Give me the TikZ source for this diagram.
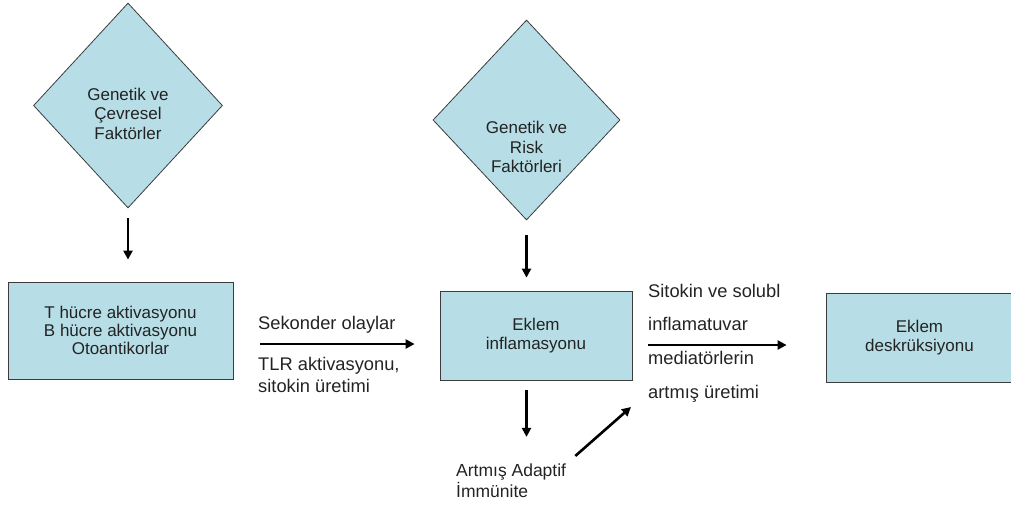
\documentclass[tikz,border=0pt]{standalone}
\usepackage{fontspec}
\setmainfont{Liberation Sans}
\usetikzlibrary{shapes.geometric,arrows.meta}
\definecolor{boxfill}{RGB}{183,222,230}
\definecolor{boxline}{RGB}{60,60,60}
\definecolor{ink}{RGB}{35,35,35}

\begin{document}
\begin{tikzpicture}[x=1pt,y=-1pt]
    \tikzset{txt/.style={font=\fontsize{17}{19.5}\selectfont,text=ink,align=center,inner sep=0pt}}
    \tikzset{lbl/.style={font=\fontsize{18.3}{19.5}\selectfont,text=ink,align=left,inner sep=0pt,anchor=west}}
    \tikzset{dia/.style={draw=boxline,line width=0.8pt,fill=boxfill,diamond,inner sep=0pt}}
    \tikzset{box/.style={txt,draw=boxline,line width=0.8pt,fill=boxfill}}
    \tikzset{edge/.style={line width=2.6pt,-{Triangle[length=9pt,width=9pt]}}}

    \useasboundingbox (0,0) rectangle (1011,504);

    \node[dia,minimum width=189pt,minimum height=205pt,
          label={[txt,yshift=-8pt]center:{Genetik ve\\Çevresel\\Faktörler}}] (d1) at (128,105.5) {};
    \node[dia,minimum width=187pt,minimum height=200pt,
          label={[txt,yshift=-27pt]center:{Genetik ve\\Risk\\Faktörleri}}] (d2) at (526.5,120) {};

    \node[box,minimum width=225pt,minimum height=97pt,font=\fontsize{17}{18}\selectfont] (b1) at (120.5,330.5)
        {T hücre aktivasyonu\\B hücre aktivasyonu\\Otoantikorlar};
    \node[box,minimum width=192pt,minimum height=89pt] (b2) at (536,335.5) {Eklem\\inflamasyonu};
    \node[box,minimum width=187pt,minimum height=89pt] (b3) at (919.5,337.5) {Eklem\\deskrüksiyonu};

    \node[lbl] (sek) at (258,325) {Sekonder olaylar};
    \node[lbl,font=\fontsize{18.3}{22}\selectfont] (tlr) at (258,375) {TLR aktivasyonu,\\sitokin üretimi};
    \node[lbl,font=\fontsize{18.3}{33.7}\selectfont] (med) at (648,343)
        {Sitokin ve solubl\\inflamatuvar\\mediatörlerin\\artmış üretimi};
    \node[lbl,font=\fontsize{17.5}{21}\selectfont] (adapt) at (456,481) {Artmış Adaptif\\İmmünite};
    \coordinate (up) at (631,407);

    \draw[edge,shorten <=10pt,shorten >=22pt] (d1.south) -- (d1.south |- b1.north);
    \draw[edge,shorten <=15pt,shorten >=13pt] (d2.south) -- (d2.south |- b2.north);
    \draw[edge,shorten <=10pt,shorten >=27pt] (b2.south -| d2.south) -- (adapt.north -| d2.south);
    \draw[edge,shorten <=12pt] (adapt.north east) -- (up);
    \draw[edge,shorten <=27pt,shorten >=25pt] (b1.east |- 0,344) -- (b2.west |- 0,344);
    \draw[edge,shorten <=16pt,shorten >=39pt] (b2.east |- 0,345) -- (b3.west |- 0,345);
\end{tikzpicture}
\end{document}
